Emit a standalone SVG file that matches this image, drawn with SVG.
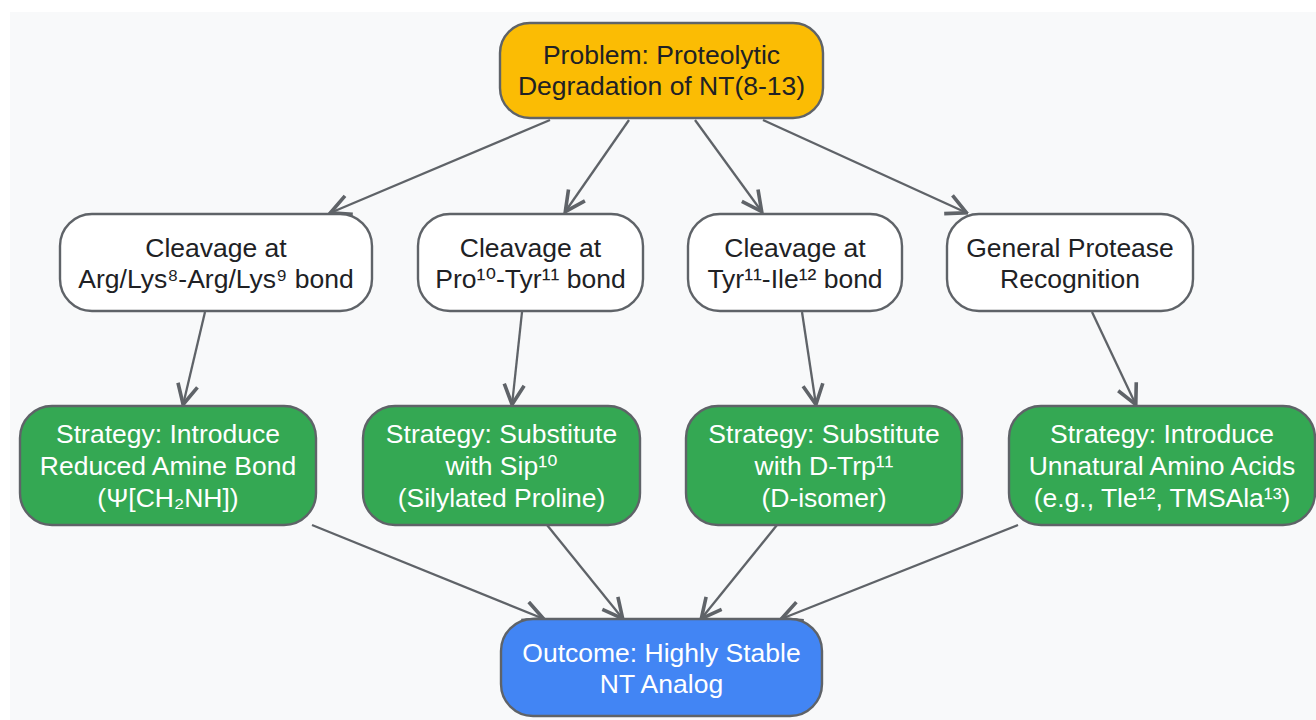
<svg xmlns="http://www.w3.org/2000/svg" width="1316" height="720" viewBox="0 0 1316 720">
<defs>
<style>
.bg{fill:#f8f9fa}
.box{stroke:#5f6368;stroke-width:2.4}
.prob{fill:#fbbc04}
.cleave{fill:#ffffff}
.strat{fill:#34a853}
.out{fill:#4285f4}
text{font-family:"Liberation Sans","DejaVu Sans",Arial,sans-serif;font-size:26.5px;text-anchor:middle}
.dark{fill:#202124}
.light{fill:#ffffff}
.edge{stroke:#5f6368;stroke-width:2.3;fill:none;marker-end:url(#arr)}
</style>
<marker id="arr" viewBox="0 0 24 24" refX="22.5" refY="12" markerWidth="24" markerHeight="24" markerUnits="userSpaceOnUse" orient="auto">
<path d="M2,2 L22,12 L2,22" fill="none" stroke="#5f6368" stroke-width="3.6"/>
</marker>
</defs>
<rect class="bg" x="10" y="12" width="1306" height="708"/>
<g id="connectors">
<line class="edge" x1="550" y1="120" x2="330" y2="213"/>
<line class="edge" x1="629" y1="120" x2="565" y2="212"/>
<line class="edge" x1="695" y1="120" x2="762" y2="212"/>
<line class="edge" x1="763" y1="120" x2="967" y2="213"/>
<line class="edge" x1="205" y1="312" x2="183" y2="405"/>
<line class="edge" x1="522" y1="312" x2="512" y2="405"/>
<line class="edge" x1="802" y1="312" x2="816" y2="405"/>
<line class="edge" x1="1092" y1="312" x2="1136" y2="405"/>
<line class="edge" x1="312" y1="525" x2="544" y2="619"/>
<line class="edge" x1="547" y1="525" x2="623" y2="619"/>
<line class="edge" x1="777" y1="525" x2="701" y2="619"/>
<line class="edge" x1="1018" y1="525" x2="781" y2="619"/>
</g>
<g id="problem">
<rect class="box prob" x="500" y="23" width="323" height="95" rx="30"/>
<text class="dark" x="661.5" y="64">Problem: Proteolytic</text>
<text class="dark" x="661.5" y="95">Degradation of NT(8-13)</text>
</g>
<g id="cleave1">
<rect class="box cleave" x="60" y="214" width="312" height="97" rx="32"/>
<text class="dark" x="216" y="257">Cleavage at</text>
<text class="dark" x="216" y="288">Arg/Lys⁸-Arg/Lys⁹ bond</text>
</g>
<g id="cleave2">
<rect class="box cleave" x="418" y="214" width="225" height="97" rx="32"/>
<text class="dark" x="530.5" y="257">Cleavage at</text>
<text class="dark" x="530.5" y="288">Pro¹⁰-Tyr¹¹ bond</text>
</g>
<g id="cleave3">
<rect class="box cleave" x="688" y="214" width="214" height="97" rx="32"/>
<text class="dark" x="795" y="257">Cleavage at</text>
<text class="dark" x="795" y="288">Tyr¹¹-Ile¹² bond</text>
</g>
<g id="general">
<rect class="box cleave" x="947" y="214" width="246" height="97" rx="32"/>
<text class="dark" x="1070" y="257">General Protease</text>
<text class="dark" x="1070" y="288">Recognition</text>
</g>
<g id="strategy1">
<rect class="box strat" x="20" y="406" width="296" height="119" rx="32"/>
<text class="light" x="168" y="443">Strategy: Introduce</text>
<text class="light" x="168" y="475">Reduced Amine Bond</text>
<text class="light" x="168" y="507">(Ψ[CH₂NH])</text>
</g>
<g id="strategy2">
<rect class="box strat" x="363" y="406" width="277" height="119" rx="32"/>
<text class="light" x="501.5" y="443">Strategy: Substitute</text>
<text class="light" x="501.5" y="475">with Sip¹⁰</text>
<text class="light" x="501.5" y="507">(Silylated Proline)</text>
</g>
<g id="strategy3">
<rect class="box strat" x="686" y="406" width="276" height="119" rx="32"/>
<text class="light" x="824" y="443">Strategy: Substitute</text>
<text class="light" x="824" y="475">with D-Trp¹¹</text>
<text class="light" x="824" y="507">(D-isomer)</text>
</g>
<g id="strategy4">
<rect class="box strat" x="1009" y="406" width="306" height="119" rx="32"/>
<text class="light" x="1162" y="443">Strategy: Introduce</text>
<text class="light" x="1162" y="475">Unnatural Amino Acids</text>
<text class="light" x="1162" y="507">(e.g., Tle¹², TMSAla¹³)</text>
</g>
<g id="outcome">
<rect class="box out" x="501" y="619" width="321" height="97" rx="32"/>
<text class="light" x="661.5" y="662">Outcome: Highly Stable</text>
<text class="light" x="661.5" y="693">NT Analog</text>
</g>
</svg>
